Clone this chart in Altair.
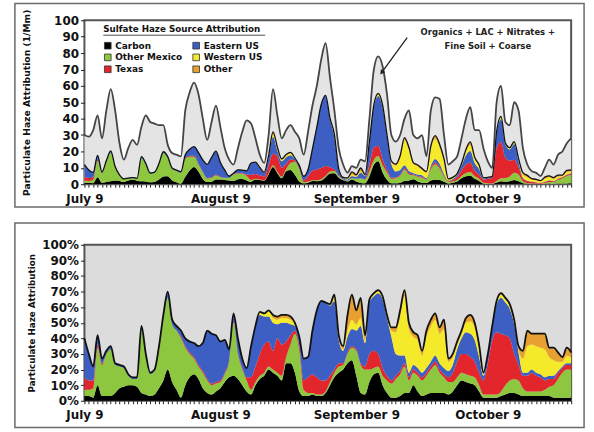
import altair as alt
import pandas as pd

# ---------------- data ----------------
days = list(range(112))  # day 0 = July 9

total = [30,29,33,42,28,45,58,45,25,15,
         22,27,24,35,42,38,37,36,36,24,
         19,18,17,45,56,62,55,40,27,38,
         48,35,22,15,12,22,32,39,37,28,
         18,13,30,58,42,28,33,36,32,28,
         18,32,48,60,76,86,65,45,22,12,
         7,11,10,15,14,40,70,78,72,55,
         30,26,30,40,45,30,28,30,17,45,
         53,52,30,12,14,17,28,40,47,33,
         33,22,14,10,50,60,38,36,50,45,
         22,12,8,7,5,10,15,12,18,20,
         25,28]

# shares of total haze (%)
carbon = [3,3,2,10,3,3,3,5,8,9,
          10,10,9,5,4,3,4,8,13,20,
          12,7,2,10,15,17,14,8,5,4,
          6,8,12,15,16,14,10,6,4,10,
          14,16,20,18,16,13,24,24,18,6,
          3,3,4,3,3,5,10,15,18,20,
          24,26,16,5,4,12,17,18,10,5,
          2,2,3,5,5,10,6,3,4,5,
          5,5,5,4,6,10,13,12,11,10,
          6,2,2,2,2,3,4,5,5,4,
          3,3,3,3,3,3,3,2,2,2,
          2,2]
other_mexico = [4,4,6,24,20,27,30,18,14,12,
                6,4,5,40,24,14,15,25,40,46,
                37,38,38,24,15,10,8,10,8,6,
                5,4,5,10,34,16,10,7,3,2,
                2,2,2,2,2,3,4,12,25,26,
                4,2,1,1,1,1,2,3,4,3,
                6,8,16,18,16,8,4,4,6,8,
                9,12,14,17,8,8,10,10,12,15,
                18,13,10,8,6,5,5,5,5,5,
                4,2,2,2,2,3,6,8,9,9,
                5,3,3,3,3,4,6,8,12,16,
                18,18]
texas = [8,6,5,2,1,0,0,0,0,0,
         0,0,0,0,0,0,0,0,0,0,
         0,0,1,1,1,1,1,1,1,1,
         1,1,1,1,1,1,1,2,8,10,
         14,18,16,12,22,20,10,6,2,3,
         6,10,12,11,9,7,4,2,2,1,
         1,1,1,1,2,10,11,8,5,3,
         2,2,2,2,2,2,2,2,2,2,
         2,2,2,3,6,10,12,13,12,10,
         8,9,20,35,40,37,32,27,16,10,
         8,10,12,10,9,6,5,4,4,3,
         3,3]
eastern_us = [25,17,9,6,3,2,2,1,1,1,
              1,1,1,3,2,1,1,2,2,4,
              3,3,4,5,7,9,12,18,31,32,
              30,25,21,7,5,9,6,6,20,26,
              25,18,16,18,9,14,12,7,3,6,
              14,13,28,43,51,50,45,44,15,8,
              10,11,12,24,15,33,35,39,44,37,
              28,14,10,5,3,3,3,3,3,3,
              4,4,4,4,5,8,10,14,15,14,
              10,3,5,8,18,23,21,19,19,8,
              2,2,2,2,2,2,2,2,1,1,
              1,1]
western_us = [0,0,0,0,0,0,0,0,0,0,
              0,0,0,0,0,0,0,0,0,0,
              0,0,0,0,0,0,0,0,0,0,
              0,0,0,0,0,0,0,0,0,0,
              2,2,4,3,3,3,3,3,1,0,
              0,0,0,0,0,0,1,2,1,1,
              4,6,4,5,2,1,1,1,1,1,
              4,14,25,38,28,18,18,11,20,23,
              23,19,25,6,5,3,3,6,8,8,
              6,1,1,1,2,2,2,2,2,2,
              9,17,16,17,17,18,12,10,6,3,
              5,4]
other = [0,0,0,0,0,0,0,0,0,0,
         0,0,0,0,0,0,0,0,0,0,
         0,0,0,0,0,0,0,0,0,0,
         0,0,0,0,0,0,0,0,0,0,
         0,0,0,2,2,2,2,2,1,0,
         0,0,0,0,0,0,0,2,2,2,
         10,16,9,13,3,1,1,1,1,1,
         2,3,4,4,4,3,3,3,4,4,
         4,4,6,2,2,2,2,3,4,3,
         2,1,0,0,0,1,1,1,1,2,
         5,10,7,8,9,10,6,8,6,3,
         5,3]

sources = ["Carbon", "Other Mexico", "Texas", "Eastern US", "Western US", "Other"]
colors = ["#000000", "#8dc63f", "#e3262b", "#3d5fc4", "#f4ea2a", "#e8a030"]
tick_days = [0, 31, 62, 92]
tick_labels = ["July 9", "August 9", "September 9", "October 9"]
note_lines = ["Organics + LAC + Nitrates +", "Fine Soil + Coarse"]

# ---------------- tables ----------------
series = [carbon, other_mexico, texas, eastern_us, western_us, other]
rows = []
for i, d in enumerate(days):
    for k, (s, arr) in enumerate(zip(sources, series)):
        rows.append({"day": d, "source": s, "ord": k, "share": arr[i], "total": total[i]})
long = pd.DataFrame(rows)
tot_df = pd.DataFrame({"day": days, "total": total})
note_df = pd.DataFrame({"day": [92, 92], "y": [93, 84.5], "text": note_lines})
arrow_df = pd.DataFrame({"x1": [73.6], "y1": [89.5], "x2": [67.9], "y2": [68.5]})
dummy = pd.DataFrame({"a": [0]})

FONT = "DejaVu Sans"
W = 490
label_expr = " : ".join(
    f"datum.value == {d} ? '{t}'" for d, t in zip(tick_days, tick_labels)
) + " : ''"

x_axis = alt.Axis(values=days, labelExpr=label_expr, labelFlush=False, labelBound=False,
                  labelOverlap=False, tickSize=3, labelPadding=6, labelFontSize=12,
                  title=None, domain=False, grid=False)
xscale = alt.Scale(domain=[0, 111], nice=False, zero=False)
x_enc = alt.X("day:Q", scale=xscale, axis=x_axis)

# ---------------- top panel ----------------
yscale_top = alt.Scale(domain=[0, 100], nice=False)
y_axis_top = alt.Axis(values=list(range(0, 101, 10)), title="Particulate Haze Attribution (1/Mm)",
                      titleFontSize=9.3, labelFontSize=12, tickSize=4, labelPadding=2,
                      titlePadding=22, grid=False, domain=False, labelOverlap=False)

gray_area = alt.Chart(tot_df).mark_area(color="#e4e4e4", interpolate="monotone").encode(
    x=x_enc, y=alt.Y("total:Q", scale=yscale_top, axis=y_axis_top))

stack_top = alt.Chart(long).transform_calculate(
    val="datum.share * datum.total / 100"
).mark_area(interpolate="monotone").encode(
    x=x_enc,
    y=alt.Y("val:Q", stack="zero", scale=yscale_top, axis=y_axis_top),
    color=alt.Color("source:N", scale=alt.Scale(domain=sources, range=colors),
                    legend=alt.Legend(title="Sulfate Haze Source Attribution", orient="none",
                                      legendX=19, legendY=5, columns=2, symbolType="square",
                                      symbolSize=45, symbolStrokeColor="#333",
                                      symbolStrokeWidth=0.8, labelFontSize=9,
                                      titleFontSize=8.8, labelFont=FONT, titleFont=FONT,
                                      labelFontWeight="bold", titleFontWeight="bold",
                                      columnPadding=8, rowPadding=1, titlePadding=7,
                                      labelOffset=3, padding=0)),
    order=alt.Order("ord:Q"))

stack_top_line = alt.Chart(long).transform_calculate(
    val="datum.share * datum.total / 100"
).transform_aggregate(sval="sum(val)", groupby=["day"]).mark_line(
    color="#111", strokeWidth=1.3, interpolate="monotone").encode(
    x=x_enc, y=alt.Y("sval:Q", scale=yscale_top, axis=y_axis_top))

total_line = alt.Chart(tot_df).mark_line(color="#444", strokeWidth=1.8,
                                         interpolate="monotone").encode(
    x=x_enc, y=alt.Y("total:Q", scale=yscale_top, axis=y_axis_top))

note = alt.Chart(note_df).mark_text(font=FONT, fontWeight="bold", fontSize=8.5,
                                    color="#222").encode(
    x=x_enc, y=alt.Y("y:Q", scale=yscale_top, axis=y_axis_top), text="text:N")

arrow = alt.Chart(arrow_df).mark_rule(color="#222", strokeWidth=1.3).encode(
    x=alt.X("x1:Q", scale=xscale, axis=x_axis),
    y=alt.Y("y1:Q", scale=yscale_top, axis=y_axis_top), x2="x2:Q", y2="y2:Q")
arrow_head = alt.Chart(arrow_df).mark_point(shape="triangle", filled=True, size=30,
                                            color="#222", angle=216, opacity=1).encode(
    x=alt.X("x2:Q", scale=xscale, axis=x_axis),
    y=alt.Y("y2:Q", scale=yscale_top, axis=y_axis_top))

underline = alt.Chart(dummy).mark_rule(color="#222", strokeWidth=0.8).encode(
    x=alt.value(19), x2=alt.value(182), y=alt.value(15))

frame_top = alt.Chart(dummy).mark_rect(fillOpacity=0, stroke="#6a6a6a", strokeWidth=1.5).encode(
    x=alt.value(-70), x2=alt.value(503), y=alt.value(-17), y2=alt.value(188))

top = alt.layer(gray_area, stack_top, stack_top_line, total_line, note, arrow, arrow_head,
                underline, frame_top).properties(
    width=W, height=165,
    view=alt.ViewBackground(fill="white", stroke="#555", strokeWidth=2))

# ---------------- bottom panel ----------------
yscale_bot = alt.Scale(domain=[0, 100], nice=False)
y_axis_bot = alt.Axis(values=list(range(0, 101, 10)), labelExpr="datum.value + '%'",
                      title="Particulate Haze Attribution", titleFontSize=8.8,
                      labelFontSize=12, tickSize=4, labelPadding=2, titlePadding=5,
                      grid=False, domain=False, labelOverlap=False)

stack_bot = alt.Chart(long).mark_area(interpolate="monotone").encode(
    x=x_enc,
    y=alt.Y("share:Q", stack="zero", scale=yscale_bot, axis=y_axis_bot),
    color=alt.Color("source:N", scale=alt.Scale(domain=sources, range=colors), legend=None),
    order=alt.Order("ord:Q"))

stack_bot_line = alt.Chart(long).transform_aggregate(
    ssum="sum(share)", groupby=["day"]).mark_line(
    color="#111", strokeWidth=1.8, interpolate="monotone").encode(
    x=x_enc, y=alt.Y("ssum:Q", scale=yscale_bot, axis=y_axis_bot))

frame_bot = alt.Chart(dummy).mark_rect(fillOpacity=0, stroke="#6a6a6a", strokeWidth=1.5).encode(
    x=alt.value(-70), x2=alt.value(503), y=alt.value(-22), y2=alt.value(184))

bottom = alt.layer(stack_bot, stack_bot_line, frame_bot).properties(
    width=W, height=157,
    view=alt.ViewBackground(fill="#dcdcdc", stroke="#555", strokeWidth=2))

chart = alt.vconcat(top, bottom, spacing=12).properties(
    padding={"left": 13, "top": 0, "right": 8, "bottom": 0},
    background="white"
).configure_axis(
    labelFont=FONT, titleFont=FONT, labelFontWeight="bold", titleFontWeight="bold",
    labelColor="#111", titleColor="#111", tickColor="#222"
).configure_legend(labelColor="#111", titleColor="#111")

chart.save("out.html", embed_options={"renderer": "svg", "actions": False})
